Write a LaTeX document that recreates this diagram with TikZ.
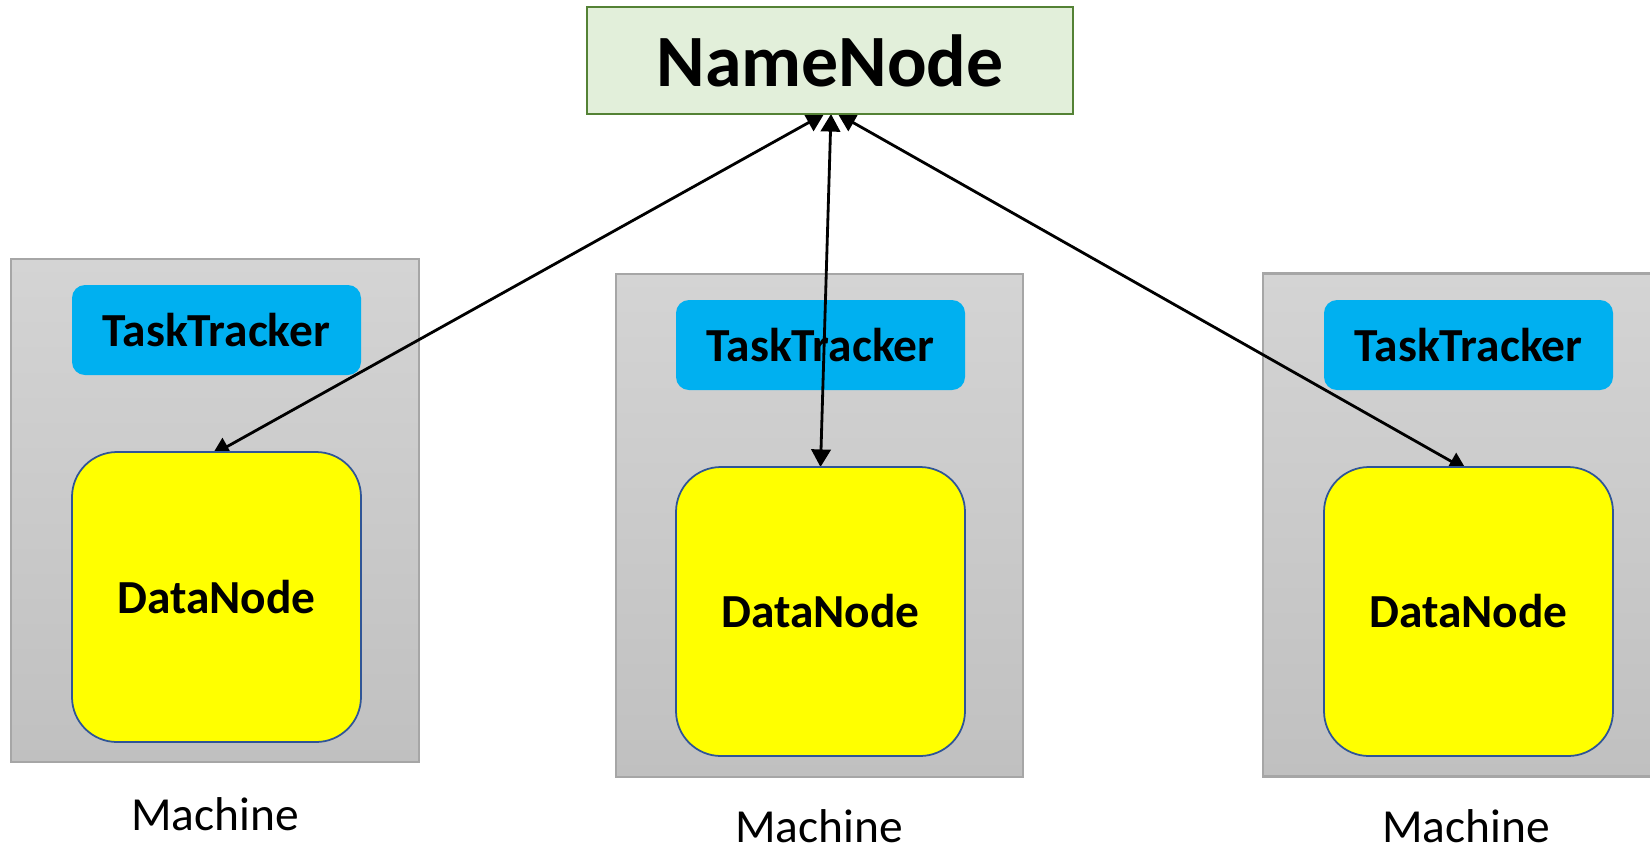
\documentclass[tikz,border=0pt]{standalone}
\usepackage{fontspec}
\setmainfont{Carlito}
\usetikzlibrary{arrows.meta,calc}
\definecolor{nnfill}{RGB}{226,239,218}
\definecolor{nnborder}{RGB}{84,130,53}
\definecolor{ttfill}{RGB}{0,176,240}
\definecolor{dnfill}{RGB}{255,255,0}
\definecolor{dnborder}{RGB}{47,85,151}
\definecolor{mtop}{RGB}{212,212,212}
\definecolor{mbot}{RGB}{192,192,192}
\definecolor{mborder}{RGB}{166,166,166}
\pgfdeclarelayer{bg}
\pgfdeclarelayer{mid}
\pgfsetlayers{bg,mid,main}
\def\u{0.02cm}
\tikzset{
  machinebox/.style={rectangle, draw=mborder, line width=1.2pt, top color=mtop, bottom color=mbot,
    minimum width=407*\u, minimum height=503*\u, inner sep=0pt, outer sep=0pt},
  namebox/.style={rectangle, draw=nnborder, line width=1.3pt, fill=nnfill,
    minimum width=486*\u, minimum height=107*\u, inner sep=0pt, outer sep=0pt,
    font=\fontsize{42}{50}\selectfont\bfseries},
  ttbox/.style={rectangle, rounded corners=13*\u, fill=ttfill,
    minimum width=289*\u, minimum height=90*\u, inner sep=0pt, outer sep=0pt,
    font=\fontsize{27}{32}\selectfont\bfseries},
  dnbox/.style={rectangle, rounded corners=45*\u, draw=dnborder, line width=1pt, fill=dnfill,
    minimum width=289*\u, minimum height=289*\u, inner sep=0pt, outer sep=0pt,
    font=\fontsize{27}{32}\selectfont\bfseries},
  mlabel/.style={anchor=base, inner sep=0pt, font=\fontsize{27}{32}\selectfont},
  link/.style={line width=1.6pt, {Triangle[length=10pt,width=11pt]}-{Triangle[length=10pt,width=11pt]}}
}
\begin{document}
\begin{tikzpicture}[x=0.02cm,y=-0.02cm]
\useasboundingbox (0,0) rectangle (1650,850);
\begin{pgfonlayer}{bg}
  \clip (0,0) rectangle (1650,850);
  \node[machinebox, minimum width=408*\u] (m1) at (215,510.5) {};
  \node[machinebox] (m2) at (819.5,525.5) {};
  \node[machinebox] (m3) at (1466.5,525) {};
  \node[ttbox] (tt1) at (216.5,330) {TaskTracker};
  \node[ttbox] (tt2) at (820.5,345) {TaskTracker};
  \node[ttbox] (tt3) at (1468.5,345) {TaskTracker};
\end{pgfonlayer}
\node[namebox] (nn) at (830,60.5) {NameNode};
\node[dnbox, minimum height=290*\u] (dn1) at (216.5,597) {DataNode};
\node[dnbox] (dn2) at (820.5,611.5) {DataNode};
\node[dnbox] (dn3) at (1468.5,611.5) {DataNode};
\node[mlabel] (l1) at (215,830) {Machine};
\node[mlabel] (l2) at (819,842) {Machine};
\node[mlabel] (l3) at (1466,842) {Machine};
\begin{pgfonlayer}{mid}
  \draw[link] ($(nn.south)+(-6,0)$) -- ($(dn1.north)+(-4.5,3)$);
  \draw[link] ($(nn.south)+(1,0)$) -- ($(dn2.north)+(0,0)$);
  \draw[link] ($(nn.south)+(8,0)$) -- ($(dn3.north)+(-2,3)$);
\end{pgfonlayer}
\end{tikzpicture}
\end{document}
